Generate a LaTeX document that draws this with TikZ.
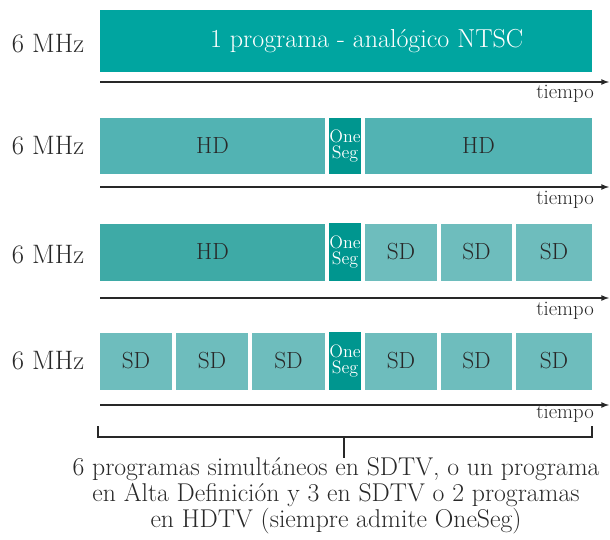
\documentclass[tikz,border=0pt]{standalone}
\usepackage{tikz}

\definecolor{ntsc}{RGB}{0,165,160}
\definecolor{hdA}{RGB}{82,179,179}
\definecolor{hdB}{RGB}{62,170,166}
\definecolor{sdc}{RGB}{110,189,189}
\definecolor{segc}{RGB}{0,150,143}
\definecolor{ink}{RGB}{40,40,40}

\begin{document}
\begin{tikzpicture}[x=0.75pt,y=-0.75pt]

	\useasboundingbox (0,0) rectangle (610,539);

	\tikzset{slot/.style={inner sep=0pt,outer sep=0pt,minimum height=57*0.75pt,text=ink,font=\fontsize{17.5}{17.5}\selectfont}}
	\tikzset{hdslot/.style={slot,fill=#1}}
	\tikzset{sdslot/.style={slot,fill=sdc}}
	\tikzset{segslot/.style={slot,fill=segc,text=white,minimum width=32*0.75pt,align=center,font=\fontsize{13.5}{12.5}\selectfont}}
	\tikzset{mhz/.style={text=ink,font=\fontsize{20}{20}\selectfont}}
	\tikzset{tiempo/.style={anchor=east,text=ink,inner sep=0pt,font=\fontsize{15.5}{15.5}\selectfont}}
	\tikzset{axis/.style={-latex,line width=1pt,ink}}

	% analog channel

	\node[slot,fill=ntsc,minimum width=492*0.75pt,minimum height=62*0.75pt,text=white,font=\fontsize{19.5}{19.5}\selectfont] (ntsc) at (346,41) {\hspace*{31pt}1 programa - anal\'ogico NTSC};
	\node[mhz] (mhz1) at (48,44) {6 MHz};
	\coordinate (t1a) at (100,82); \coordinate (t1b) at (609,82);
	\draw[axis] (t1a) -- (t1b);
	\node[tiempo] (tiempo1) at (594,94) {tiempo};

	% 2 x HD

	\node[hdslot=hdA,minimum width=225*0.75pt,minimum height=56*0.75pt] (hd2a) at (212.5,146) {HD};
	\node[segslot,minimum height=56*0.75pt] (seg2) at (345,146) {One\\Seg};
	\node[hdslot=hdA,minimum width=227*0.75pt,minimum height=56*0.75pt] (hd2b) at (478.5,146) {HD};
	\node[mhz] (mhz2) at (48,146) {6 MHz};
	\coordinate (t2a) at (100,187); \coordinate (t2b) at (609,187);
	\draw[axis] (t2a) -- (t2b);
	\node[tiempo] (tiempo2) at (594,200) {tiempo};

	% HD + 3 x SD

	\node[hdslot=hdB,minimum width=225*0.75pt] (hd3) at (212.5,252) {HD};
	\node[segslot,minimum height=58*0.75pt] (seg3) at (345,252) {One\\Seg};
	\foreach \l/\r/\n in {365/437/1,441/512/2,516/592/3} {
		\node[sdslot,minimum width=(\r-\l)*0.75pt] (sd3\n) at ({(\l+\r)/2},252) {SD};
	}
	\node[mhz] (mhz3) at (48,255) {6 MHz};
	\coordinate (t3a) at (100,298); \coordinate (t3b) at (609,298);
	\draw[axis] (t3a) -- (t3b);
	\node[tiempo] (tiempo3) at (594,311) {tiempo};

	% 6 x SD

	\foreach \l/\r/\n in {100/172/1,176/248/2,252/325/3,365/437/4,441/512/5,516/592/6} {
		\node[sdslot,minimum width=(\r-\l)*0.75pt] (sd4\n) at ({(\l+\r)/2},361) {SD};
	}
	\node[segslot,minimum height=58*0.75pt] (seg4) at (345,361) {One\\Seg};
	\node[mhz] (mhz4) at (48,361) {6 MHz};
	\coordinate (t4a) at (100,405); \coordinate (t4b) at (609,405);
	\draw[axis] (t4a) -- (t4b);
	\node[tiempo] (tiempo4) at (594,414) {tiempo};

	% brace and note

	\coordinate (brl) at (98,426); \coordinate (brr) at (592,426); \coordinate (brm) at (344,437);
	\draw[line width=1pt,ink] (brl) |- (brr |- brm) -- (brr);
	\node[text=ink,align=center,inner sep=0pt,font=\fontsize{19.3}{19.5}\selectfont] (nota) at (336,496)
		{6 programas simult\'aneos en SDTV, o un programa\\en Alta Definici\'on y 3 en SDTV o 2 programas\\en HDTV (siempre admite OneSeg)};
	\draw[line width=1pt,ink] (brm) -- (brm |- nota.north);

\end{tikzpicture}
\end{document}
